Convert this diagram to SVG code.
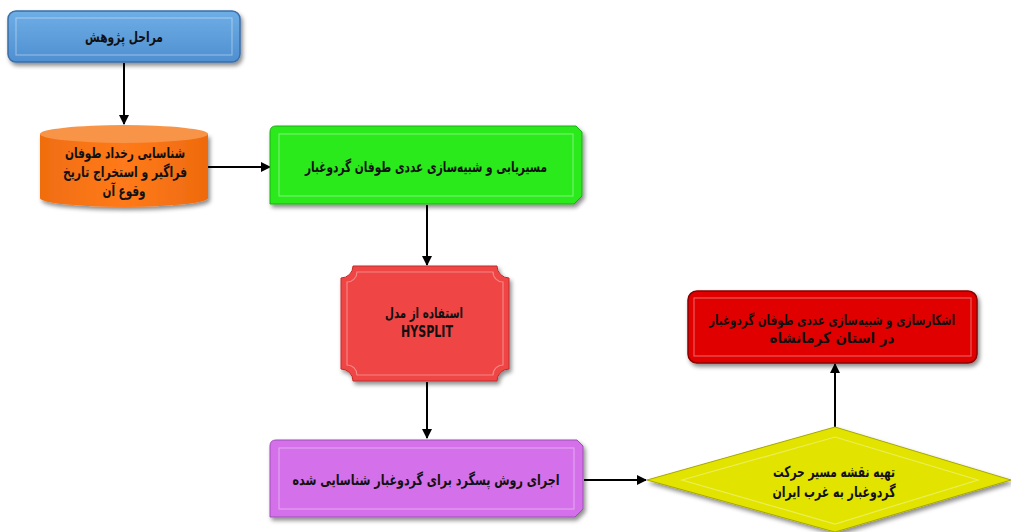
<svg xmlns="http://www.w3.org/2000/svg" width="1011" height="532" viewBox="0 0 1011 532">
<defs>
<filter id="sh" x="-10%" y="-10%" width="125%" height="130%">
<feDropShadow dx="2" dy="3" stdDeviation="2" flood-color="#000" flood-opacity="0.45"/>
</filter>
<marker id="ah" viewBox="0 0 10 10" refX="9" refY="5" markerWidth="5" markerHeight="5" orient="auto">
<path d="M0,0 L10,5 L0,10 z" fill="#000"/>
</marker>
<linearGradient id="gBlue" x1="0" y1="0" x2="0" y2="1"><stop offset="0" stop-color="#6eaee6"/><stop offset="1" stop-color="#4f8fd0"/></linearGradient>
<linearGradient id="gOr" x1="0" y1="0" x2="1" y2="0"><stop offset="0" stop-color="#f06d10"/><stop offset="0.5" stop-color="#ff7a1a"/><stop offset="1" stop-color="#ee6a0e"/></linearGradient>
</defs>
<style>
.t{font-family:"DejaVu Sans",sans-serif;font-weight:bold;font-size:15px;fill:#111;text-anchor:middle;direction:rtl}
.e{stroke:#000;stroke-width:2;fill:none;marker-end:url(#ah)}
.in{fill:none;stroke:#fff;stroke-opacity:0.35;stroke-width:1.2}
</style>
<g id="connectors">
<line class="e" x1="124" y1="63" x2="124" y2="124"/>
<line class="e" x1="208" y1="167" x2="270" y2="167"/>
<line class="e" x1="427" y1="205" x2="427" y2="265"/>
<line class="e" x1="427" y1="382" x2="427" y2="438"/>
<line class="e" x1="584" y1="480" x2="646" y2="480"/>
<line class="e" x1="835" y1="427" x2="835" y2="364"/>
</g>
<g id="n1">
<rect x="8" y="11" width="232" height="51" rx="8" fill="url(#gBlue)" stroke="#3a6ea8" stroke-width="1.5" filter="url(#sh)"/>
<rect x="16" y="18" width="216" height="37" class="in"/>
<text class="t" x="124" y="42" textLength="78" lengthAdjust="spacingAndGlyphs">مراحل پژوهش</text>
</g>
<g id="n2">
<path d="M40,134 L40,198 A84,9 0 0 0 208,198 L208,134 Z" fill="url(#gOr)" filter="url(#sh)"/>
<ellipse cx="124" cy="134" rx="84" ry="9" fill="#f89448"/>
<text class="t" x="125" y="158" textLength="120" lengthAdjust="spacingAndGlyphs">شناسایی رخداد طوفان</text>
<text class="t" x="125" y="177" textLength="124" lengthAdjust="spacingAndGlyphs">فراگیر و استخراج تاریخ</text>
<text class="t" x="124" y="196" textLength="43" lengthAdjust="spacingAndGlyphs">وقوع آن</text>
</g>
<g id="n3">
<path d="M276,126 L576,126 L582,132 L582,196 L574,204 L270,204 L270,132 Q270,126 276,126 Z" fill="#2aea1c" stroke="#1fae14" stroke-width="1" filter="url(#sh)"/>
<rect x="279" y="134" width="294" height="62" class="in"/>
<text class="t" x="426" y="172" textLength="242" lengthAdjust="spacingAndGlyphs">مسیریابی و شبیه‌سازی عددی طوفان گردوغبار</text>
</g>
<g id="n4">
<path d="M353,266 L497,266 A12,12 0 0 0 509,278 L509,369 A12,12 0 0 0 497,381 L353,381 A12,12 0 0 0 341,369 L341,278 A12,12 0 0 0 353,266 Z" fill="#ef4545" stroke="#c02a2a" stroke-width="1" filter="url(#sh)"/>
<path d="M357,272 L493,272 A10,10 0 0 0 503,282 L503,365 A10,10 0 0 0 493,375 L357,375 A10,10 0 0 0 347,365 L347,282 A10,10 0 0 0 357,272 Z" class="in"/>
<text class="t" x="424" y="318" textLength="78" lengthAdjust="spacingAndGlyphs">استفاده از مدل</text>
<text class="t" x="427" y="337" style="direction:ltr" textLength="52" lengthAdjust="spacingAndGlyphs">HYSPLIT</text>
</g>
<g id="n5">
<path d="M276,440 L577,440 L583,446 L583,509 L575,517 L270,517 L270,446 Q270,440 276,440 Z" fill="#d470ea" stroke="#a04cb4" stroke-width="1" filter="url(#sh)"/>
<rect x="279" y="448" width="295" height="61" class="in"/>
<text class="t" x="426" y="485" textLength="267" lengthAdjust="spacingAndGlyphs">اجرای روش پسگرد برای گردوغبار شناسایی شده</text>
</g>
<g id="n6">
<polygon points="647,480 835,427 1011,480 835,532" fill="#e2e400" stroke="#a8a800" stroke-width="1" filter="url(#sh)"/>
<polygon points="682,480 835,437 978,480 835,524" class="in"/>
<text class="t" x="834" y="477" textLength="122" lengthAdjust="spacingAndGlyphs">تهیه نقشه مسیر حرکت</text>
<text class="t" x="834" y="497" textLength="123" lengthAdjust="spacingAndGlyphs">گردوغبار به غرب ایران</text>
</g>
<g id="n7">
<rect x="688" y="291" width="289" height="72" rx="9" fill="#e00000" stroke="#8a0000" stroke-width="1.5" filter="url(#sh)"/>
<rect x="694" y="298" width="277" height="58" class="in"/>
<text class="t" x="832" y="325" style="font-size:14px" textLength="246" lengthAdjust="spacingAndGlyphs">اشکارسازی و شبیه‌سازی عددی طوفان گردوغبار</text>
<text class="t" x="832" y="343" textLength="125" lengthAdjust="spacingAndGlyphs">در استان کرمانشاه</text>
</g>
</svg>
